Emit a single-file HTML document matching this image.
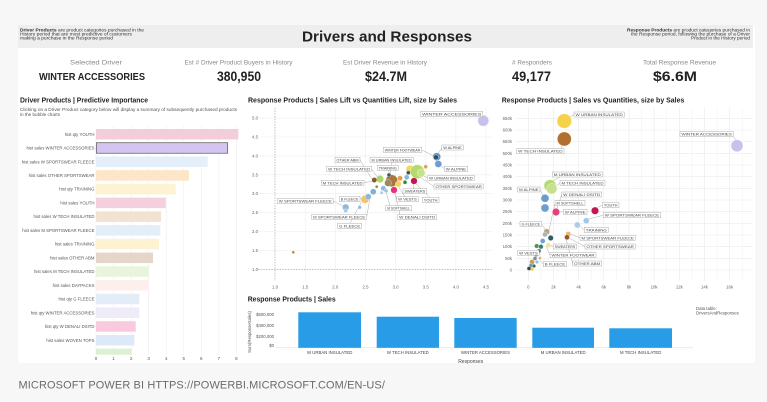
<!DOCTYPE html>
<html><head><meta charset="utf-8"><style>
html,body{margin:0;padding:0;background:#f7f7f7;}
svg{display:block;font-family:"Liberation Sans",sans-serif;}
</style></head><body>
<svg width="767" height="402" viewBox="0 0 767 402" xmlns="http://www.w3.org/2000/svg">
<rect x="0" y="0" width="767" height="402" fill="#f7f7f7"/>
<rect x="18" y="25" width="737" height="338" fill="#ffffff" rx="3"/>
<rect x="18" y="25" width="735" height="23" fill="#eeeeee"/>

<!-- header -->
<g font-size="4.7" fill="#333">
<text x="20" y="31.5" textLength="124" lengthAdjust="spacingAndGlyphs"><tspan font-weight="bold">Driver Products</tspan> are product categories purchased in the</text>
<text x="20" y="35.5" textLength="112" lengthAdjust="spacingAndGlyphs">History period that are most predictive of customers</text>
<text x="20" y="39.5" textLength="93" lengthAdjust="spacingAndGlyphs">making a purchase in the Response period</text>
<text x="750" y="31.5" text-anchor="end" textLength="123" lengthAdjust="spacingAndGlyphs"><tspan font-weight="bold">Response Products</tspan> are product categories purchased in</text>
<text x="750" y="35.5" text-anchor="end" textLength="119" lengthAdjust="spacingAndGlyphs">the Response period, following the purchase of a Driver</text>
<text x="750" y="39.5" text-anchor="end" textLength="59" lengthAdjust="spacingAndGlyphs">Product in the History period</text>
</g>
<text x="387" y="41.7" text-anchor="middle" font-size="15" font-weight="bold" fill="#222" textLength="170" lengthAdjust="spacingAndGlyphs">Drivers and Responses</text>

<!-- KPIs -->
<g font-size="6" fill="#888" text-anchor="middle">
<text x="96" y="64.3" textLength="52" lengthAdjust="spacingAndGlyphs">Selected Driver</text>
<text x="238.5" y="64.3" textLength="108" lengthAdjust="spacingAndGlyphs">Est # Driver Product Buyers in History</text>
<text x="385" y="64.3" textLength="84" lengthAdjust="spacingAndGlyphs">Est Driver Revenue in History</text>
<text x="532" y="64.3" textLength="40" lengthAdjust="spacingAndGlyphs"># Responders</text>
<text x="679.5" y="64.3" textLength="73" lengthAdjust="spacingAndGlyphs">Total Response Revenue</text>
</g>
<g font-weight="bold" fill="#222" text-anchor="middle">
<text x="92" y="80" font-size="10.5" textLength="106" lengthAdjust="spacingAndGlyphs">WINTER ACCESSORIES</text>
<text x="239" y="81" font-size="13.5" textLength="44" lengthAdjust="spacingAndGlyphs">380,950</text>
<text x="386" y="81" font-size="13.5" textLength="42" lengthAdjust="spacingAndGlyphs">$24.7M</text>
<text x="531.5" y="81" font-size="13.5" textLength="39" lengthAdjust="spacingAndGlyphs">49,177</text>
<text x="675" y="81" font-size="13.5" textLength="44" lengthAdjust="spacingAndGlyphs">$6.6M</text>
</g>

<!-- section titles -->
<g font-size="7" font-weight="bold" fill="#222">
<text x="20" y="102.5" textLength="128" lengthAdjust="spacingAndGlyphs">Driver Products | Predictive Importance</text>
<text x="248" y="102.5" textLength="209" lengthAdjust="spacingAndGlyphs">Response Products | Sales Lift vs Quantities Lift, size by Sales</text>
<text x="501.7" y="102.5" textLength="182.7" lengthAdjust="spacingAndGlyphs">Response Products | Sales vs Quantities, size by Sales</text>
<text x="247.7" y="301.7" textLength="88" lengthAdjust="spacingAndGlyphs">Response Products | Sales</text>
</g>
<g font-size="4.8" fill="#555">
<text x="20" y="111" textLength="217" lengthAdjust="spacingAndGlyphs">Clicking on a Driver Product category below will display a summary of subsequently purchased products</text>
<text x="20" y="116" textLength="40" lengthAdjust="spacingAndGlyphs">in the bubble charts</text>
</g>

<!-- left bar chart -->
<g stroke="#eeeeee" stroke-width="0.6">
<line x1="96" y1="126" x2="96" y2="355"/><line x1="113.55" y1="126" x2="113.55" y2="355"/>
<line x1="131.1" y1="126" x2="131.1" y2="355"/><line x1="148.65" y1="126" x2="148.65" y2="355"/>
<line x1="166.2" y1="126" x2="166.2" y2="355"/><line x1="183.75" y1="126" x2="183.75" y2="355"/>
<line x1="201.3" y1="126" x2="201.3" y2="355"/><line x1="218.85" y1="126" x2="218.85" y2="355"/>
<line x1="236.4" y1="126" x2="236.4" y2="355"/>
</g>
<g>
<rect x="96" y="129" width="142.3" height="10.5" fill="#f4cddb"/>
<rect x="96.3" y="142.73" width="131.4" height="10.5" fill="#d3c5f0" stroke="#555" stroke-width="0.7"/>
<rect x="96" y="156.46" width="111.7" height="10.5" fill="#e4eff9"/>
<rect x="96" y="170.19" width="93" height="10.5" fill="#fde6c8"/>
<rect x="96" y="183.92" width="79.7" height="10.5" fill="#fdf3d3"/>
<rect x="96" y="197.65" width="69.7" height="10.5" fill="#f4cfdc"/>
<rect x="96" y="211.38" width="65" height="10.5" fill="#f2e2d2"/>
<rect x="96" y="225.11" width="64.3" height="10.5" fill="#e3eef9"/>
<rect x="96" y="238.84" width="63" height="10.5" fill="#fdf3d3"/>
<rect x="96" y="252.57" width="57" height="10.5" fill="#e6d6c9"/>
<rect x="96" y="266.3" width="53" height="10.5" fill="#e8f4dc"/>
<rect x="96" y="280.03" width="53" height="10.5" fill="#fdefea"/>
<rect x="96" y="293.76" width="43.3" height="10.5" fill="#e2edf8"/>
<rect x="96" y="307.49" width="43.3" height="10.5" fill="#efebf8"/>
<rect x="96" y="321.22" width="39.7" height="10.5" fill="#f9c9dd"/>
<rect x="96" y="334.95" width="38.3" height="10.5" fill="#dde9f6"/>
<rect x="96" y="348.68" width="35.7" height="6" fill="#dcf0d3"/>
</g>
<g font-size="4.3" fill="#555" text-anchor="end">
<text x="94.5" y="135.8">hist qty YOUTH</text>
<text x="94.5" y="149.5">hist sales WINTER ACCESSORIES</text>
<text x="94.5" y="163.3">hist sales W SPORTSWEAR FLEECE</text>
<text x="94.5" y="177">hist sales OTHER SPORTSWEAR</text>
<text x="94.5" y="190.7">hist qty TRAINING</text>
<text x="94.5" y="204.5">hist sales YOUTH</text>
<text x="94.5" y="218.2">hist sales W TECH INSULATED</text>
<text x="94.5" y="231.9">hist sales M SPORTSWEAR FLEECE</text>
<text x="94.5" y="245.6">hist sales TRAINING</text>
<text x="94.5" y="259.4">hist sales OTHER ABM</text>
<text x="94.5" y="273.1">hist sales M TECH INSULATED</text>
<text x="94.5" y="286.8">hist sales DAYPACKS</text>
<text x="94.5" y="300.6">hist qty G FLEECE</text>
<text x="94.5" y="314.3">hist qty WINTER ACCESSORIES</text>
<text x="94.5" y="328">hist qty W DENALI DSITD</text>
<text x="94.5" y="341.8">hist sales WOVEN TOPS</text>
</g>
<g font-size="4.5" fill="#555" text-anchor="middle">
<text x="96" y="359.8">0</text><text x="113.55" y="359.8">1</text><text x="131.1" y="359.8">2</text>
<text x="148.65" y="359.8">3</text><text x="166.2" y="359.8">4</text><text x="183.75" y="359.8">5</text>
<text x="201.3" y="359.8">6</text><text x="218.85" y="359.8">7</text><text x="236.4" y="359.8">8</text>
</g>

<!-- middle scatter -->
<g stroke="#eeeeee" stroke-width="0.6">
<line x1="258" y1="118.1" x2="492" y2="118.1"/><line x1="258" y1="137" x2="492" y2="137"/>
<line x1="258" y1="155.9" x2="492" y2="155.9"/><line x1="258" y1="174.8" x2="492" y2="174.8"/>
<line x1="258" y1="193.7" x2="492" y2="193.7"/><line x1="258" y1="212.6" x2="492" y2="212.6"/>
<line x1="258" y1="231.5" x2="492" y2="231.5"/><line x1="258" y1="250.4" x2="492" y2="250.4"/>
<line x1="305.2" y1="108" x2="305.2" y2="281"/><line x1="335.3" y1="108" x2="335.3" y2="281"/>
<line x1="365.5" y1="108" x2="365.5" y2="281"/><line x1="395.6" y1="108" x2="395.6" y2="281"/>
<line x1="425.8" y1="108" x2="425.8" y2="281"/><line x1="455.9" y1="108" x2="455.9" y2="281"/>
<line x1="486" y1="108" x2="486" y2="281"/>
</g>
<g stroke="#999" stroke-width="0.6" stroke-dasharray="1.5,1.2">
<line x1="275" y1="108" x2="275" y2="281"/>
<line x1="258" y1="269.3" x2="492" y2="269.3"/>
</g>
<g font-size="4.3" fill="#666" text-anchor="end">
<text x="258" y="119.6">5.0</text><text x="258" y="138.5">4.5</text><text x="258" y="157.4">4.0</text>
<text x="258" y="176.3">3.5</text><text x="258" y="195.2">3.0</text><text x="258" y="214.1">2.5</text>
<text x="258" y="233">2.0</text><text x="258" y="251.9">1.5</text><text x="258" y="270.8">1.0</text>
</g>
<g font-size="4.3" fill="#666" text-anchor="middle">
<text x="275" y="288.3">1.0</text><text x="305.2" y="288.3">1.5</text><text x="335.3" y="288.3">2.0</text>
<text x="365.5" y="288.3">2.5</text><text x="395.6" y="288.3">3.0</text><text x="425.8" y="288.3">3.5</text>
<text x="455.9" y="288.3">4.0</text><text x="486" y="288.3">4.5</text>
</g>
<g stroke="#888" stroke-width="0.35" fill="none">
<line x1="421.7" y1="150" x2="434" y2="156"/>
<line x1="441.7" y1="148" x2="438" y2="154"/>
<line x1="444.3" y1="168.5" x2="439" y2="165"/>
<line x1="360" y1="160" x2="372" y2="179"/>
<line x1="392" y1="162.3" x2="390" y2="175"/>
<line x1="371.7" y1="169" x2="378" y2="178"/>
<line x1="388" y1="170.3" x2="391" y2="176"/>
<line x1="427.7" y1="177.8" x2="419" y2="174"/>
<line x1="364" y1="182.8" x2="373" y2="181"/>
<line x1="434" y1="186.5" x2="420" y2="177"/>
<line x1="414" y1="188.7" x2="413" y2="184"/>
<line x1="333.3" y1="201" x2="343" y2="206"/>
<line x1="360" y1="198.8" x2="366" y2="199"/>
<line x1="405" y1="196.7" x2="398" y2="186"/>
<line x1="430" y1="197.3" x2="416" y2="184"/>
<line x1="390" y1="205.7" x2="386" y2="192"/>
<line x1="366.7" y1="216.8" x2="370" y2="198"/>
<line x1="400" y1="214.7" x2="395" y2="193"/>
<line x1="350" y1="223.3" x2="362" y2="201"/>
</g>
<g stroke="#fff" stroke-width="0.3">
<circle cx="483.3" cy="120.7" r="5.5" fill="#c9c1ec"/>
<circle cx="293.3" cy="252.3" r="1.4" fill="#c0793a"/>
<circle cx="345.7" cy="207.3" r="3.3" fill="#8fb8db"/>
<circle cx="345.7" cy="210.7" r="2" fill="#a9cbe6"/>
<circle cx="359.7" cy="207.3" r="1.8" fill="#8fb8db"/>
<circle cx="365" cy="199.3" r="4" fill="#f2c36c"/>
<circle cx="368.3" cy="196.7" r="3" fill="#8ab7db"/>
<circle cx="373.3" cy="191.7" r="3" fill="#7eb1da"/>
<circle cx="376.7" cy="186.7" r="1.5" fill="#8a8a3a"/>
<circle cx="381.7" cy="192.7" r="1.6" fill="#aac8e0"/>
<circle cx="383.3" cy="188.3" r="2.5" fill="#8bb8da"/>
<circle cx="386" cy="190.7" r="2" fill="#9cc3e2"/>
<circle cx="380" cy="179" r="3.7" fill="#a9d86c"/>
<circle cx="374.3" cy="180" r="2.6" fill="#8b5a2b"/>
<circle cx="391.7" cy="180.7" r="6" fill="#a8763e"/>
<circle cx="388" cy="183" r="3.5" fill="#9c8a5a"/>
<circle cx="389" cy="175" r="2" fill="#3c5a6a"/>
<circle cx="400" cy="178.3" r="2.5" fill="#e89a3c"/>
<circle cx="398.3" cy="184" r="3" fill="#f3d35a"/>
<circle cx="394" cy="190" r="3.3" fill="#e6317a"/>
<circle cx="406.7" cy="177.3" r="2.5" fill="#8bb8da"/>
<circle cx="405" cy="182.3" r="2" fill="#3a8a3a"/>
<circle cx="410" cy="169.3" r="4" fill="#f5d65e"/>
<circle cx="417.3" cy="171.7" r="7" fill="#b5d96a"/>
<circle cx="421" cy="173" r="4" fill="#c6e28a"/>
<circle cx="408.3" cy="172.7" r="2" fill="#2e5a6a"/>
<circle cx="414" cy="181" r="3.3" fill="#c8144e"/>
<circle cx="425.7" cy="166.7" r="2" fill="#e6a13c"/>
<circle cx="436.7" cy="156.7" r="4" fill="#5f95c8"/>
<circle cx="438.3" cy="164" r="3.5" fill="#6b9fcf"/>
<circle cx="436" cy="157.3" r="2.4" fill="#2f4f5f"/>
</g>
<g fill="#fff" stroke="#999" stroke-width="0.4">
<rect x="420.7" y="111.3" width="62" height="5.4"/>
<rect x="441.7" y="145" width="21.6" height="5"/>
<rect x="444.3" y="166.3" width="23.4" height="5"/>
<rect x="383.3" y="147.3" width="38.4" height="5"/>
<rect x="335" y="157.3" width="25" height="5"/>
<rect x="370" y="157.3" width="43.3" height="5"/>
<rect x="326.7" y="166.3" width="45" height="5"/>
<rect x="377.3" y="165.3" width="21" height="5"/>
<rect x="427.7" y="175.3" width="46.6" height="5"/>
<rect x="321.3" y="180.3" width="42.7" height="5"/>
<rect x="434" y="184" width="49.3" height="5"/>
<rect x="403" y="188.7" width="23.7" height="5"/>
<rect x="277.3" y="198.7" width="56" height="5"/>
<rect x="339.3" y="196.3" width="20.7" height="5"/>
<rect x="396.7" y="196.7" width="21.6" height="5"/>
<rect x="422.3" y="197.3" width="16.7" height="5"/>
<rect x="385.7" y="205.7" width="26" height="5"/>
<rect x="311.7" y="214.3" width="55" height="5"/>
<rect x="397.7" y="214.7" width="39" height="5"/>
<rect x="337.7" y="223.3" width="24" height="5"/>
</g>
<g font-size="4" fill="#444">
<text x="422.2" y="115.5" textLength="59" lengthAdjust="spacingAndGlyphs">WINTER ACCESSORIES</text>
<text x="443.2" y="149" textLength="18.6" lengthAdjust="spacingAndGlyphs">W ALPINE</text>
<text x="445.8" y="170.3" textLength="20.4" lengthAdjust="spacingAndGlyphs">W ALPINE</text>
<text x="384.8" y="151.3" textLength="35.4" lengthAdjust="spacingAndGlyphs">WINTER FOOTWEAR</text>
<text x="336.5" y="161.3" textLength="22" lengthAdjust="spacingAndGlyphs">OTHER ABM</text>
<text x="371.5" y="161.3" textLength="40.3" lengthAdjust="spacingAndGlyphs">M URBAN INSULATED</text>
<text x="328.2" y="170.3" textLength="42" lengthAdjust="spacingAndGlyphs">W TECH INSULATED</text>
<text x="378.8" y="169.3" textLength="18" lengthAdjust="spacingAndGlyphs">TRAINING</text>
<text x="429.2" y="179.3" textLength="43.6" lengthAdjust="spacingAndGlyphs">W URBAN INSULATED</text>
<text x="322.8" y="184.3" textLength="39.7" lengthAdjust="spacingAndGlyphs">M TECH INSULATED</text>
<text x="435.5" y="188" textLength="46.3" lengthAdjust="spacingAndGlyphs">OTHER SPORTSWEAR</text>
<text x="404.5" y="192.7" textLength="20.7" lengthAdjust="spacingAndGlyphs">SWEATERS</text>
<text x="278.8" y="202.7" textLength="53" lengthAdjust="spacingAndGlyphs">W SPORTSWEAR FLEECE</text>
<text x="340.8" y="200.3" textLength="17.7" lengthAdjust="spacingAndGlyphs">B FLEECE</text>
<text x="398.2" y="200.7" textLength="18.6" lengthAdjust="spacingAndGlyphs">W VESTS</text>
<text x="423.8" y="201.3" textLength="13.7" lengthAdjust="spacingAndGlyphs">YOUTH</text>
<text x="387.2" y="209.7" textLength="23" lengthAdjust="spacingAndGlyphs">M SOFTSHELL</text>
<text x="313.2" y="218.3" textLength="52" lengthAdjust="spacingAndGlyphs">M SPORTSWEAR FLEECE</text>
<text x="399.2" y="218.7" textLength="36" lengthAdjust="spacingAndGlyphs">W DENALI DSITD</text>
<text x="339.2" y="227.3" textLength="21" lengthAdjust="spacingAndGlyphs">G FLEECE</text>
</g>

<!-- right scatter -->
<g stroke="#f2f2f2" stroke-width="0.5">
<line x1="540.9" y1="108" x2="540.9" y2="281"/><line x1="566.1" y1="108" x2="566.1" y2="281"/>
<line x1="591.2" y1="108" x2="591.2" y2="281"/><line x1="616.4" y1="108" x2="616.4" y2="281"/>
<line x1="641.6" y1="108" x2="641.6" y2="281"/><line x1="666.7" y1="108" x2="666.7" y2="281"/>
<line x1="691.9" y1="108" x2="691.9" y2="281"/><line x1="717.1" y1="108" x2="717.1" y2="281"/>
<line x1="742.2" y1="108" x2="742.2" y2="281"/>
</g>
<g stroke="#e9e9e9" stroke-width="0.6">
<line x1="528.3" y1="108" x2="528.3" y2="281"/><line x1="553.5" y1="108" x2="553.5" y2="281"/>
<line x1="578.6" y1="108" x2="578.6" y2="281"/><line x1="603.8" y1="108" x2="603.8" y2="281"/>
<line x1="629" y1="108" x2="629" y2="281"/><line x1="654.1" y1="108" x2="654.1" y2="281"/>
<line x1="679.3" y1="108" x2="679.3" y2="281"/><line x1="704.5" y1="108" x2="704.5" y2="281"/>
<line x1="729.6" y1="108" x2="729.6" y2="281"/>
<line x1="516" y1="118.3" x2="752" y2="118.3"/><line x1="516" y1="130" x2="752" y2="130"/>
<line x1="516" y1="141.7" x2="752" y2="141.7"/><line x1="516" y1="153.3" x2="752" y2="153.3"/>
<line x1="516" y1="165" x2="752" y2="165"/><line x1="516" y1="176.7" x2="752" y2="176.7"/>
<line x1="516" y1="188.3" x2="752" y2="188.3"/><line x1="516" y1="200" x2="752" y2="200"/>
<line x1="516" y1="211.7" x2="752" y2="211.7"/><line x1="516" y1="223.3" x2="752" y2="223.3"/>
<line x1="516" y1="235" x2="752" y2="235"/><line x1="516" y1="246.7" x2="752" y2="246.7"/>
<line x1="516" y1="258.3" x2="752" y2="258.3"/><line x1="516" y1="270" x2="752" y2="270"/>
</g>
<g font-size="4.3" fill="#666" text-anchor="end">
<text x="512" y="119.8">650k</text><text x="512" y="131.5">600k</text><text x="512" y="143.2">550k</text>
<text x="512" y="154.8">500k</text><text x="512" y="166.5">450k</text><text x="512" y="178.2">400k</text>
<text x="512" y="189.8">350k</text><text x="512" y="201.5">300k</text><text x="512" y="213.2">250k</text>
<text x="512" y="224.8">200k</text><text x="512" y="236.5">150k</text><text x="512" y="248.2">100k</text>
<text x="512" y="259.8">50k</text><text x="512" y="271.5">0</text>
</g>
<g font-size="4.3" fill="#666" text-anchor="middle">
<text x="528.3" y="288.3">0</text><text x="553.5" y="288.3">2k</text><text x="578.6" y="288.3">4k</text>
<text x="603.8" y="288.3">6k</text><text x="629" y="288.3">8k</text><text x="654.1" y="288.3">10k</text>
<text x="679.3" y="288.3">12k</text><text x="704.5" y="288.3">14k</text><text x="729.6" y="288.3">16k</text>
</g>
<g stroke="#888" stroke-width="0.35" fill="none">
<line x1="574" y1="114.7" x2="570" y2="117"/>
<line x1="733" y1="136.3" x2="736" y2="140"/>
<line x1="560" y1="153.7" x2="562" y2="146"/>
<line x1="560" y1="177" x2="553" y2="181"/>
<line x1="560" y1="183" x2="556" y2="186"/>
<line x1="540" y1="189.5" x2="543" y2="195"/>
<line x1="561.7" y1="194.5" x2="557" y2="209"/>
<line x1="555" y1="203.2" x2="549" y2="230"/>
<line x1="602.3" y1="205" x2="597" y2="208"/>
<line x1="563.3" y1="211.8" x2="559" y2="212"/>
<line x1="603.3" y1="215.2" x2="589" y2="219"/>
<line x1="541.7" y1="223.8" x2="545" y2="229"/>
<line x1="584.3" y1="229.8" x2="580" y2="226"/>
<line x1="580" y1="237.8" x2="570" y2="234"/>
<line x1="585" y1="246.5" x2="569" y2="238"/>
<line x1="553.3" y1="246.5" x2="550" y2="245"/>
<line x1="539.3" y1="252.8" x2="542" y2="243"/>
<line x1="550" y1="255.2" x2="546" y2="246"/>
<line x1="572.7" y1="263.5" x2="566" y2="239"/>
<line x1="543.3" y1="264.2" x2="538" y2="258"/>
</g>
<g stroke="#fff" stroke-width="0.3">
<circle cx="564.3" cy="121" r="7.3" fill="#f6d24c"/>
<circle cx="564.3" cy="139" r="7" fill="#b36f2e"/>
<circle cx="737" cy="145.7" r="6" fill="#c9c1ec"/>
<circle cx="550" cy="185.7" r="6" fill="#b3db6c"/>
<circle cx="551.7" cy="188.7" r="5.3" fill="#c6e08c"/>
<circle cx="545" cy="198.3" r="4" fill="#6b9dcc"/>
<circle cx="545" cy="208" r="4" fill="#6d9fce"/>
<circle cx="556" cy="212" r="3.7" fill="#e6407a"/>
<circle cx="595" cy="210.7" r="3.7" fill="#c41650"/>
<circle cx="586.3" cy="220.7" r="3" fill="#a4c8e4"/>
<circle cx="577.3" cy="225" r="3" fill="#a9cde6"/>
<circle cx="568.3" cy="234" r="2.6" fill="#f2b565"/>
<circle cx="567" cy="237.3" r="2.5" fill="#8c5c2e"/>
<circle cx="546.7" cy="231.7" r="3" fill="#c8a26e"/>
<circle cx="545" cy="234.5" r="2.5" fill="#9ab8d0"/>
<circle cx="550.7" cy="238" r="2.7" fill="#2d5b6b"/>
<circle cx="542.7" cy="241" r="2.5" fill="#6fa0cf"/>
<circle cx="548.3" cy="245.3" r="2.5" fill="#f2e3a0"/>
<circle cx="536.7" cy="246" r="2.3" fill="#4d9a4a"/>
<circle cx="541" cy="246.7" r="2.3" fill="#3d7a7a"/>
<circle cx="539" cy="251" r="2" fill="#555"/>
<circle cx="536" cy="255" r="2" fill="#7ea8cf"/>
<circle cx="537" cy="262" r="1.8" fill="#9ac0e0"/>
<circle cx="540" cy="258" r="1.5" fill="#e0b070"/>
<circle cx="535" cy="258.5" r="2" fill="#888"/>
<circle cx="532" cy="262" r="2.5" fill="#c89a5a"/>
<circle cx="531" cy="265.5" r="2" fill="#6a9ac8"/>
<circle cx="534" cy="266" r="1.8" fill="#3b6e3b"/>
<circle cx="532" cy="269" r="2" fill="#f0d060"/>
<circle cx="529" cy="268.5" r="2" fill="#444"/>
</g>
<g fill="#fff" stroke="#999" stroke-width="0.4">
<rect x="574" y="112" width="50.3" height="5"/>
<rect x="680" y="131.3" width="53.3" height="5"/>
<rect x="516.7" y="148.7" width="47.3" height="5"/>
<rect x="552.3" y="172" width="50" height="5"/>
<rect x="560" y="180.3" width="45" height="5"/>
<rect x="517.7" y="187" width="22.3" height="5"/>
<rect x="561.7" y="192" width="40" height="5"/>
<rect x="555" y="200.7" width="30" height="5"/>
<rect x="602.3" y="202.7" width="16.7" height="5"/>
<rect x="563.3" y="209.3" width="23.7" height="5"/>
<rect x="603.3" y="212.7" width="57.4" height="5"/>
<rect x="520" y="221.3" width="21.7" height="5"/>
<rect x="584.3" y="227.3" width="24" height="5"/>
<rect x="580" y="235.3" width="55.3" height="5"/>
<rect x="585" y="244" width="50.3" height="5"/>
<rect x="553.3" y="244" width="23.4" height="5"/>
<rect x="517.7" y="250.3" width="21.6" height="5"/>
<rect x="550" y="252.7" width="46" height="5"/>
<rect x="572.7" y="261" width="29" height="5"/>
<rect x="543.3" y="261.7" width="23.4" height="5"/>
</g>
<g font-size="4" fill="#444">
<text x="575.5" y="116" textLength="47.3" lengthAdjust="spacingAndGlyphs">W URBAN INSULATED</text>
<text x="681.5" y="135.3" textLength="50.3" lengthAdjust="spacingAndGlyphs">WINTER ACCESSORIES</text>
<text x="518.2" y="152.7" textLength="44.3" lengthAdjust="spacingAndGlyphs">W TECH INSULATED</text>
<text x="553.8" y="176" textLength="47" lengthAdjust="spacingAndGlyphs">M URBAN INSULATED</text>
<text x="561.5" y="184.3" textLength="42" lengthAdjust="spacingAndGlyphs">M TECH INSULATED</text>
<text x="519.2" y="191" textLength="19.3" lengthAdjust="spacingAndGlyphs">M ALPINE</text>
<text x="563.2" y="196" textLength="37" lengthAdjust="spacingAndGlyphs">W DENALI DSITD</text>
<text x="556.5" y="204.7" textLength="27" lengthAdjust="spacingAndGlyphs">M SOFTSHELL</text>
<text x="603.8" y="206.7" textLength="13.7" lengthAdjust="spacingAndGlyphs">YOUTH</text>
<text x="564.8" y="213.3" textLength="20.7" lengthAdjust="spacingAndGlyphs">W ALPINE</text>
<text x="604.8" y="216.7" textLength="54.4" lengthAdjust="spacingAndGlyphs">W SPORTSWEAR FLEECE</text>
<text x="521.5" y="225.3" textLength="18.7" lengthAdjust="spacingAndGlyphs">G FLEECE</text>
<text x="585.8" y="231.3" textLength="21" lengthAdjust="spacingAndGlyphs">TRAINING</text>
<text x="581.5" y="239.3" textLength="52.3" lengthAdjust="spacingAndGlyphs">M SPORTSWEAR FLEECE</text>
<text x="586.5" y="248" textLength="47.3" lengthAdjust="spacingAndGlyphs">OTHER SPORTSWEAR</text>
<text x="554.8" y="248" textLength="20.4" lengthAdjust="spacingAndGlyphs">SWEATERS</text>
<text x="519.2" y="254.3" textLength="18.6" lengthAdjust="spacingAndGlyphs">W VESTS</text>
<text x="551.5" y="256.7" textLength="43" lengthAdjust="spacingAndGlyphs">WINTER FOOTWEAR</text>
<text x="574.2" y="265" textLength="26" lengthAdjust="spacingAndGlyphs">OTHER ABM</text>
<text x="544.8" y="265.7" textLength="20.4" lengthAdjust="spacingAndGlyphs">B FLEECE</text>
</g>

<!-- bottom bar chart -->
<line x1="276" y1="347.8" x2="693" y2="347.8" stroke="#dddddd" stroke-width="0.7"/>
<g fill="#289ce6">
<rect x="298.3" y="312.3" width="62.7" height="35.5"/>
<rect x="376.7" y="316.7" width="62.3" height="31.1"/>
<rect x="454.3" y="318" width="62.4" height="29.8"/>
<rect x="532.3" y="327.7" width="61.7" height="20.1"/>
<rect x="609.3" y="328.3" width="62.7" height="19.5"/>
</g>
<g font-size="4.3" fill="#555" text-anchor="end">
<text x="274" y="316.2">$600,000</text>
<text x="274" y="327.2">$400,000</text>
<text x="274" y="338.2">$200,000</text>
<text x="274" y="346.8">$0</text>
</g>
<text x="0" y="0" font-size="4.3" fill="#555" text-anchor="middle" transform="translate(251,332) rotate(-90)">Sum(ResponseSales)</text>
<g font-size="4.3" fill="#444" text-anchor="middle">
<text x="329.7" y="353.8">W URBAN INSULATED</text>
<text x="407.8" y="353.8">W TECH INSULATED</text>
<text x="485.5" y="353.8">WINTER ACCESSORIES</text>
<text x="563.2" y="353.8">M URBAN INSULATED</text>
<text x="640.7" y="353.8">M TECH INSULATED</text>
</g>
<text x="470.7" y="363" font-size="5" fill="#444" text-anchor="middle">Responses</text>
<g font-size="4.3" fill="#555">
<text x="696" y="309.8">Data table:</text>
<text x="696" y="314.6">DriversAndResponses</text>
</g>

<!-- footer -->
<text x="18.5" y="388.3" font-size="11" fill="#6a6a6a" letter-spacing="0.12" textLength="366.5" lengthAdjust="spacingAndGlyphs">MICROSOFT POWER BI HTTPS://POWERBI.MICROSOFT.COM/EN-US/</text>
</svg>
</body></html>
